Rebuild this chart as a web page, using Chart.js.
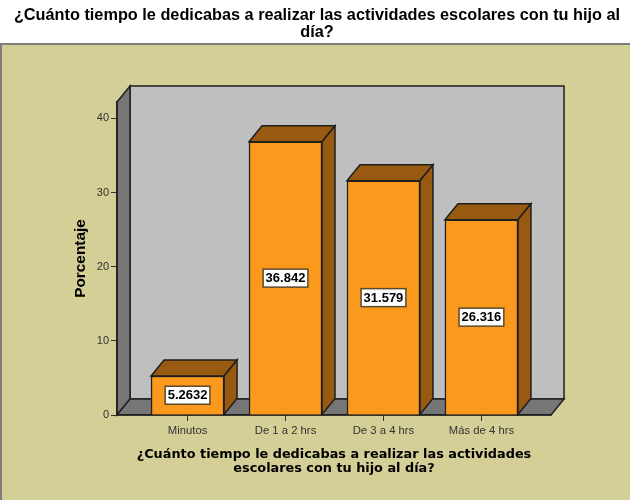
<!DOCTYPE html>
<html>
<head>
<meta charset="utf-8">
<style>
  html, body { margin: 0; padding: 0; background: #fff; }
  #wrap { width: 630px; height: 500px; }
</style>
<script src="https://cdn.jsdelivr.net/npm/chart.js@4"></script>
</head>
<body>
<div id="wrap"><canvas id="chart" width="630" height="500"></canvas></div>
<script>
// Chart data
const categories = ["Minutos", "De 1 a 2 hrs", "De 3 a 4 hrs", "Más de 4 hrs"];
const percentages = [5.2632, 36.842, 31.579, 26.316];
const valueLabels = ["5.2632", "36.842", "31.579", "26.316"];
const titleLines = ["¿Cuánto tiempo le dedicabas a realizar las actividades escolares con tu hijo al", "día?"];
const xTitleLines = ["¿Cuánto tiempo le dedicabas a realizar las actividades", "escolares con tu hijo al día?"];
const yTitle = "Porcentaje";

// Depth of the fake 3D box, in pixels
const depthX = 13;
const depthY = 16;
const outline = "#1f1f1f";

function poly(ctx, pts, fill, stroke, width) {
  ctx.beginPath();
  pts.forEach((p, i) => i ? ctx.lineTo(p[0], p[1]) : ctx.moveTo(p[0], p[1]));
  ctx.closePath();
  ctx.fillStyle = fill;
  ctx.fill();
  ctx.strokeStyle = stroke;
  ctx.lineWidth = width;
  ctx.stroke();
}

// Panel behind the chart, the page title, plus the walls and floor of the box
const backdrop = {
  id: "backdrop",
  beforeDraw(chart) {
    const ctx = chart.ctx;
    const { left, right, top, bottom } = chart.chartArea;
    ctx.save();
    ctx.fillStyle = "#d3cf97";
    ctx.fillRect(1, 44, 630, 456);
    ctx.strokeStyle = "#7d7d7d";
    ctx.lineWidth = 2;
    ctx.strokeRect(1, 44, 640, 470);
    ctx.fillStyle = "#000";
    ctx.font = "bold 16.3px 'Liberation Sans'";
    ctx.textAlign = "center";
    ctx.textBaseline = "middle";
    ctx.fillText(titleLines[0], 317, 16);
    ctx.fillText(titleLines[1], 317, 33);
    poly(ctx, [[left + depthX, top - depthY], [right + depthX, top - depthY], [right + depthX, bottom - depthY], [left + depthX, bottom - depthY]], "#bfbfbf", outline, 1.5);
    poly(ctx, [[left, top], [left + depthX, top - depthY], [left + depthX, bottom - depthY], [left, bottom]], "#767676", outline, 1.5);
    poly(ctx, [[left, bottom], [left + depthX, bottom - depthY], [right + depthX, bottom - depthY], [right, bottom]], "#767676", outline, 1.5);
    ctx.restore();
  }
};

// Top and side faces of the bars
const barFaces = {
  id: "barFaces",
  beforeDatasetsDraw(chart) {
    const ctx = chart.ctx;
    ctx.save();
    chart.getDatasetMeta(0).data.forEach((bar) => {
      const l = bar.x - bar.width / 2;
      const r = bar.x + bar.width / 2;
      poly(ctx, [[l, bar.y], [l + depthX, bar.y - depthY], [r + depthX, bar.y - depthY], [r, bar.y]], "#985a10", outline, 1.5);
      poly(ctx, [[r, bar.y], [r + depthX, bar.y - depthY], [r + depthX, bar.base - depthY], [r, bar.base]], "#985a10", outline, 1.5);
    });
    ctx.restore();
  },
  // White value boxes in the middle of each bar
  afterDatasetsDraw(chart) {
    const ctx = chart.ctx;
    ctx.save();
    ctx.font = "bold 13px 'Liberation Sans'";
    ctx.textAlign = "center";
    ctx.textBaseline = "middle";
    chart.getDatasetMeta(0).data.forEach((bar, i) => {
      const mid = (bar.y + bar.base) / 2;
      const w = ctx.measureText(valueLabels[i]).width + 5;
      ctx.fillStyle = "#fff";
      ctx.fillRect(bar.x - w / 2, mid - 9, w, 18);
      ctx.strokeStyle = "#5c4a2c";
      ctx.lineWidth = 1.5;
      ctx.strokeRect(bar.x - w / 2, mid - 9, w, 18);
      ctx.fillStyle = "#000";
      ctx.fillText(valueLabels[i], bar.x, mid + 0.5);
    });
    ctx.restore();
  }
};

new Chart(document.getElementById("chart"), {
  type: "bar",
  data: {
    datasets: [{
      data: percentages.map((v, i) => ({ x: i, y: v })),
      backgroundColor: "#fb991d",
      borderColor: outline,
      borderWidth: 1.5,
      barThickness: 73
    }]
  },
  options: {
    responsive: false,
    animation: false,
    layout: { padding: { top: 102, left: 72, right: 79, bottom: 24 } },
    plugins: {
      legend: { display: false },
      tooltip: { enabled: false },
      title: { display: false }
    },
    scales: {
      x: {
        type: "linear",
        offset: false,
        min: -0.72,
        max: 3.71,
        afterBuildTicks(axis) { axis.ticks = categories.map((c, i) => ({ value: i })); },
        afterFit(axis) { axis.height = 61; },
        grid: { offset: false, drawOnChartArea: false, tickLength: 6, tickColor: "#333", tickWidth: 1 },
        border: { color: outline, width: 1.5 },
        ticks: {
          autoSkip: false,
          maxRotation: 0,
          padding: 3,
          color: "#333",
          font: { family: "'Liberation Sans'", size: 11.3 },
          callback: (v) => categories[v]
        },
        title: {
          display: true,
          text: xTitleLines,
          color: "#000",
          font: { family: "'DejaVu Sans'", size: 12.85, weight: "bold", lineHeight: 1.1 },
          padding: { top: 4, bottom: 0 }
        }
      },
      y: {
        min: 0,
        max: 42.2,
        afterFit(axis) { axis.width = 45; },
        grid: { drawOnChartArea: false, tickLength: 6, tickColor: "#333", tickWidth: 1 },
        border: { color: outline, width: 1.5 },
        ticks: {
          stepSize: 10,
          includeBounds: false,
          padding: 2,
          color: "#333",
          font: { family: "'Liberation Sans'", size: 11 }
        },
        title: {
          display: true,
          text: yTitle,
          color: "#000",
          font: { family: "'Liberation Sans'", size: 15.4, weight: "bold" },
          padding: 0
        }
      }
    }
  },
  plugins: [backdrop, barFaces]
});
</script>
</body>
</html>
